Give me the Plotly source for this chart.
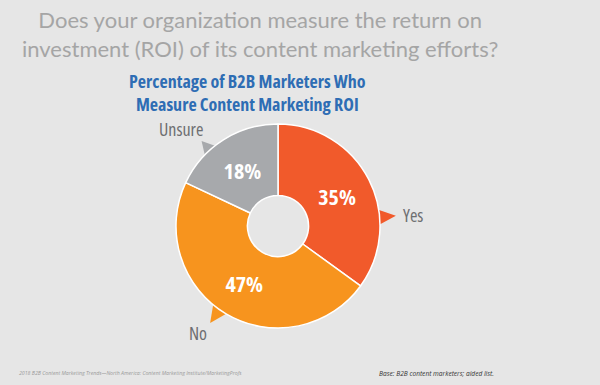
import math
import plotly.graph_objects as go

labels = ["Yes", "No", "Unsure"]
values = [35, 47, 18]
colors = ["#F15A2B", "#F7941E", "#A7A9AC"]

W, H = 600, 385
cx, cy, R = 278, 226, 102  # pixel geometry of the donut

fig = go.Figure(go.Pie(
    labels=labels, values=values, sort=False, direction="clockwise", rotation=0,
    hole=0.3, marker=dict(colors=colors, line=dict(color="white", width=1.5)),
    texttemplate='<span style="font-stretch:semi-condensed"><b>%{value}%</b></span>',
    textposition="inside", insidetextorientation="horizontal",
    textfont=dict(color="white", size=22, family="Open Sans"),
    showlegend=False, hoverinfo="label+percent",
    domain=dict(x=[(cx - R) / W, (cx + R) / W], y=[(H - cy - R) / H, (H - cy + R) / H]),
))

def px2paper(x, y):
    return x / W, 1 - y / H

# callout pointers, placed by angle (degrees clockwise from 12 o'clock)
pointers = [  # (angle of tip, half-width deg, tip distance, colour index)
    (85, 5, 1.16, 0),
    (215, 5.5, 1.16, 1),
    (318, 5, 1.12, 2),
]
shapes = []
for ang, hw, dist, ci in pointers:
    pts = []
    for a, r in [(ang - hw, 0.97), (ang, dist), (ang + hw, 0.97)]:
        t = math.radians(a)
        x = cx + r * R * math.sin(t)
        y = cy - r * R * math.cos(t)
        pts.append(px2paper(x, y))
    path = "M {} {} L {} {} L {} {} Z".format(*[v for p in pts for v in p])
    shapes.append(dict(type="path", xref="paper", yref="paper", path=path,
                       fillcolor=colors[ci], line=dict(width=0), layer="below"))

cond = '<span style="font-stretch:condensed"><b>{}</b></span>'
semi = '<span style="font-stretch:semi-condensed">{}</span>'
lab_font = dict(size=18, color="#6D6E71", family="Open Sans")

ann = [
    dict(text="Does your organization measure the return on<br>investment (ROI) of its content marketing efforts?",
         x=260 / W, y=1 - 4 / H, xanchor="center", yanchor="top", showarrow=False,
         font=dict(size=22, color="#A5A5A5", family="Lato"), align="center"),
    dict(text=cond.format("Percentage of B2B Marketers Who") + "<br>" + cond.format("Measure Content Marketing ROI"),
         x=247 / W, y=1 - 67 / H, xanchor="center", yanchor="top", showarrow=False,
         font=dict(size=18, color="#2E6DB4", family="Open Sans"), align="center"),
    dict(text=semi.format("Yes"), x=401 / W, y=1 - 215 / H, xanchor="left", yanchor="middle", showarrow=False,
         font=lab_font),
    dict(text=semi.format("No"), x=187 / W, y=1 - 333 / H, xanchor="left", yanchor="middle", showarrow=False,
         font=lab_font),
    dict(text=semi.format("Unsure"), x=157 / W, y=1 - 129 / H, xanchor="left", yanchor="middle", showarrow=False,
         font=lab_font),
    dict(text="<i>2018 B2B Content Marketing Trends\u2014North America: Content Marketing Institute/MarketingProfs</i>",
         x=17 / W, y=1 - 373 / H, xanchor="left", yanchor="middle", showarrow=False,
         font=dict(size=5.2, color="#9A9A9A", family="Open Sans")),
    dict(text="<i>Base: B2B content marketers; aided list.</i>",
         x=496 / W, y=1 - 373 / H, xanchor="right", yanchor="middle", showarrow=False,
         font=dict(size=6.6, color="#333333", family="Open Sans")),
]

fig.update_layout(
    width=W, height=H, margin=dict(l=0, r=0, t=0, b=0),
    paper_bgcolor="#E6E6E6", plot_bgcolor="#E6E6E6",
    shapes=shapes, annotations=ann,
)
fig.write_html("out.html", config={"displayModeBar": False},
               post_script="document.body.style.margin='0';document.body.style.background='#E6E6E6';")
